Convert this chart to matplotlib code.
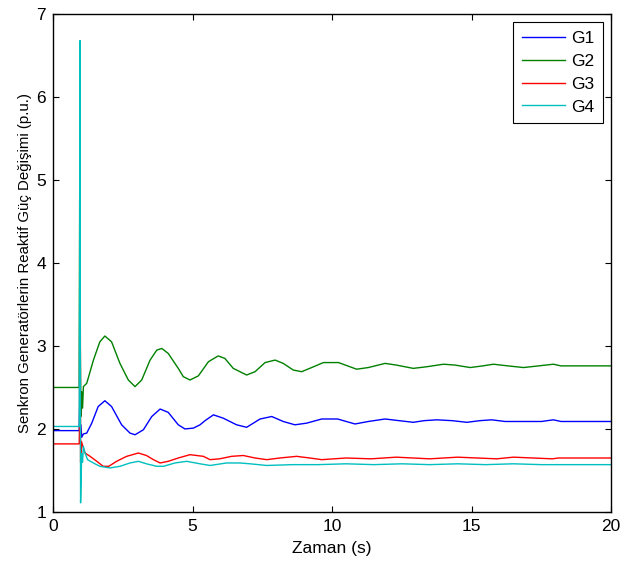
import matplotlib
matplotlib.use("Agg")
import matplotlib.pyplot as plt
import numpy as np

plt.rcParams['font.family'] = ['Liberation Sans', 'DejaVu Sans']

# values (time [s], reactive power [p.u.])
g1 = [(0, 1.98), (0.94, 1.98), (0.96, 2.3), (0.98, 1.9), (1.0, 2.05), (1.03, 1.9),
      (1.09, 1.94), (1.21, 1.95), (1.39, 2.07), (1.62, 2.27), (1.86, 2.34), (2.1, 2.27),
      (2.46, 2.05), (2.76, 1.95), (2.94, 1.93), (3.24, 1.99), (3.54, 2.15), (3.84, 2.24),
      (4.13, 2.20), (4.49, 2.05), (4.73, 2.0), (5.03, 2.01), (5.27, 2.05), (5.45, 2.10),
      (5.75, 2.17), (6.1, 2.13), (6.58, 2.05), (6.94, 2.02), (7.42, 2.12), (7.84, 2.15),
      (8.25, 2.09), (8.67, 2.05), (9.09, 2.07), (9.63, 2.12), (10.2, 2.12), (10.82, 2.06),
      (11.3, 2.09), (11.9, 2.12), (12.4, 2.1), (12.91, 2.08), (13.3, 2.1), (13.75, 2.11),
      (14.3, 2.1), (14.83, 2.08), (15.3, 2.1), (15.72, 2.11), (16.2, 2.09), (17.5, 2.09),
      (17.93, 2.11), (18.2, 2.09), (20, 2.09)]

g2 = [(0, 2.5), (0.94, 2.5), (0.95, 4.0), (0.97, 6.15), (0.98, 3.0), (1.0, 2.15),
      (1.03, 2.45), (1.06, 2.25), (1.09, 2.51), (1.21, 2.55), (1.45, 2.83), (1.68, 3.05),
      (1.86, 3.12), (2.1, 3.05), (2.4, 2.79), (2.7, 2.59), (2.94, 2.51), (3.18, 2.59),
      (3.48, 2.83), (3.72, 2.95), (3.9, 2.97), (4.13, 2.91), (4.49, 2.73), (4.67, 2.63),
      (4.91, 2.59), (5.21, 2.64), (5.57, 2.81), (5.92, 2.88), (6.16, 2.85), (6.46, 2.73),
      (6.94, 2.65), (7.24, 2.69), (7.6, 2.80), (7.96, 2.83), (8.25, 2.79), (8.61, 2.71),
      (8.91, 2.69), (9.27, 2.74), (9.69, 2.80), (10.23, 2.80), (10.88, 2.72), (11.3, 2.74),
      (11.9, 2.79), (12.3, 2.77), (12.91, 2.73), (13.4, 2.75), (13.99, 2.78), (14.4, 2.77),
      (14.95, 2.74), (15.4, 2.76), (15.78, 2.78), (16.3, 2.76), (16.86, 2.74), (17.4, 2.76),
      (17.93, 2.78), (18.2, 2.76), (20, 2.76)]

g3 = [(0, 1.82), (0.94, 1.82), (0.95, 2.0), (0.97, 5.15), (0.99, 1.6), (1.02, 1.85),
      (1.09, 1.77), (1.15, 1.71), (1.33, 1.67), (1.57, 1.61), (1.8, 1.55), (2.0, 1.55),
      (2.28, 1.61), (2.64, 1.67), (3.06, 1.71), (3.35, 1.68), (3.6, 1.63), (3.84, 1.59),
      (4.13, 1.61), (4.49, 1.65), (4.91, 1.69), (5.39, 1.67), (5.63, 1.63), (5.97, 1.64),
      (6.4, 1.67), (6.82, 1.68), (7.24, 1.65), (7.66, 1.63), (8.13, 1.65), (8.73, 1.67),
      (9.2, 1.65), (9.63, 1.63), (10.5, 1.65), (11.4, 1.64), (12.3, 1.66), (13.5, 1.64),
      (14.5, 1.66), (15.9, 1.64), (16.5, 1.66), (17.9, 1.64), (18.1, 1.65), (20, 1.65)]

g4 = [(0, 2.03), (0.94, 2.03), (0.96, 4.0), (0.97, 6.68), (0.98, 3.0), (0.99, 1.11),
      (1.03, 1.7), (1.06, 1.6), (1.09, 1.79), (1.15, 1.71), (1.24, 1.63), (1.45, 1.59),
      (1.68, 1.55), (2.04, 1.53), (2.4, 1.55), (2.76, 1.59), (3.06, 1.61), (3.35, 1.58),
      (3.72, 1.55), (3.96, 1.55), (4.37, 1.59), (4.79, 1.61), (5.27, 1.58), (5.63, 1.56),
      (6.22, 1.59), (6.7, 1.59), (7.06, 1.58), (7.66, 1.56), (8.6, 1.57), (9.5, 1.57),
      (10.5, 1.58), (11.5, 1.57), (12.5, 1.58), (13.5, 1.57), (14.5, 1.58), (15.5, 1.57),
      (16.5, 1.58), (17.5, 1.57), (18.5, 1.57), (20, 1.57)]

names = ['G1', 'G2', 'G3', 'G4']
colors = ['#0000ff', '#008000', '#ff0000', '#00bfbf']

fig = plt.figure(figsize=(6.23, 5.72), dpi=100)
ax = fig.add_axes([0.085, 0.105, 0.896, 0.8705])

for data, name, c in zip([g1, g2, g3, g4], names, colors):
    d = np.array(data)
    ax.plot(d[:, 0], d[:, 1], color=c, lw=1.0, label=name)

ax.set_xlim(0, 20)
ax.set_ylim(1, 7)
ax.set_xticks([0, 5, 10, 15, 20])
ax.set_yticks([1, 2, 3, 4, 5, 6, 7])
ax.tick_params(direction='in', length=4, width=0.8, labelsize=12.5,
               top=True, right=True, pad=5)
for s in ax.spines.values():
    s.set_linewidth(1.0)

ax.set_xlabel('Zaman (s)', fontsize=12.5, labelpad=5)
ax.set_ylabel('Senkron Generatörlerin Reaktif Güç Değişimi (p.u.)', fontsize=10.8, labelpad=3)

leg = ax.legend(loc='upper right', fontsize=12.5, fancybox=False, framealpha=1,
                edgecolor='black', handlelength=2.5, labelspacing=0.45,
                borderaxespad=0.45, borderpad=0.5, handletextpad=0.35)
leg.get_frame().set_linewidth(0.8)

plt.savefig('out.png', dpi=100)
